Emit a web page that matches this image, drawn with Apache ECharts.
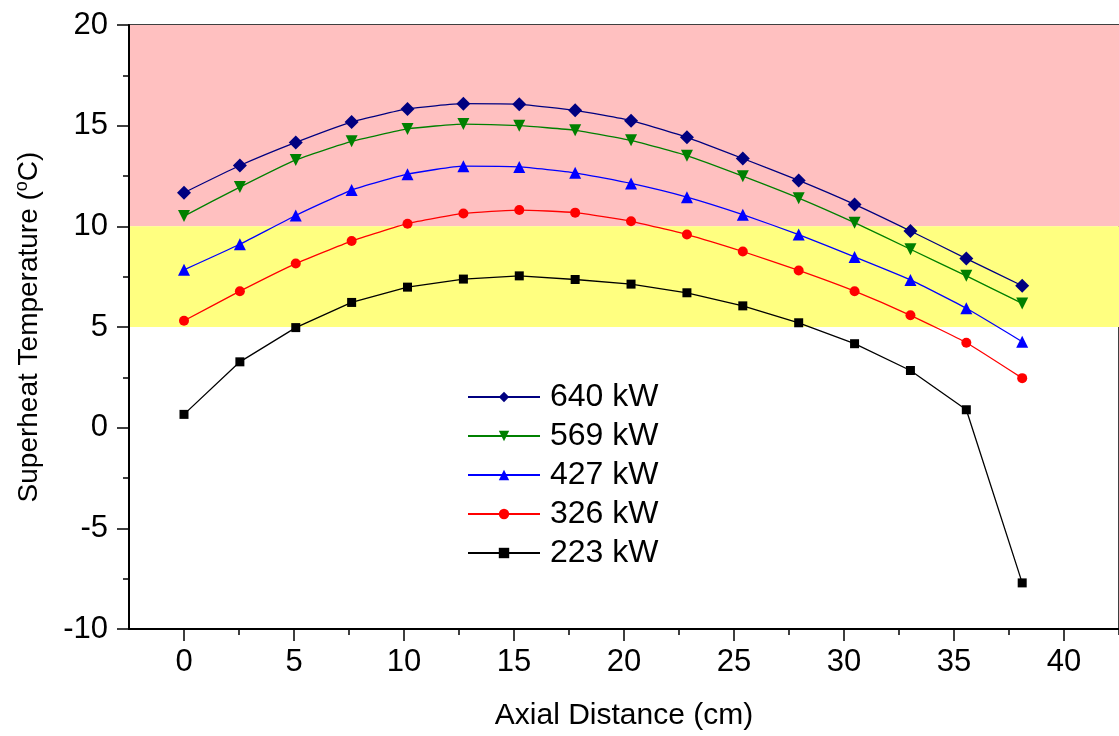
<!DOCTYPE html>
<html>
<head>
<meta charset="utf-8">
<script src="https://cdn.jsdelivr.net/npm/echarts@6/dist/echarts.min.js"></script>
<style>
  html, body { margin: 0; padding: 0; background: #fff; }
  #chart { width: 1119px; height: 736px; }
</style>
</head>
<body>
<div id="chart"></div>
<script>
// axial positions (cm)
const xPos = [0, 2.54, 5.08, 7.62, 10.16, 12.7, 15.24, 17.78, 20.32, 22.86, 25.4, 27.94, 30.48, 33.02, 35.56, 38.1]

// superheat per heat load (°C)
const s640 = [11.67, 13.02, 14.17, 15.18, 15.83, 16.09, 16.06, 15.76, 15.25, 14.42, 13.37, 12.28, 11.09, 9.77, 8.40, 7.05]
const s569 = [10.51, 11.95, 13.30, 14.22, 14.84, 15.08, 15.00, 14.77, 14.27, 13.51, 12.49, 11.40, 10.18, 8.86, 7.54, 6.17]
const s427 = [7.84, 9.11, 10.54, 11.80, 12.59, 12.99, 12.95, 12.66, 12.13, 11.45, 10.58, 9.59, 8.48, 7.34, 5.93, 4.27]
const s326 = [5.31, 6.78, 8.15, 9.27, 10.13, 10.64, 10.81, 10.68, 10.25, 9.59, 8.75, 7.81, 6.78, 5.58, 4.22, 2.46]
const s223 = [0.66, 3.27, 4.97, 6.22, 6.98, 7.38, 7.54, 7.36, 7.13, 6.70, 6.05, 5.21, 4.17, 2.84, 0.89, -7.71]

const names = ['640 kW', '569 kW', '427 kW', '326 kW', '223 kW']

// tick positions
const xMajor = [0, 5, 10, 15, 20, 25, 30, 35, 40]
const xMinor = [2.5, 7.5, 12.5, 17.5, 22.5, 27.5, 32.5, 37.5, 42.5]

// shaded bands [from, to]
const hotBand = [10, 20]
const warmBand = [5, 10]

const font = 'Liberation Sans, Arial, sans-serif'
const pairs = ys => xPos.map((x, i) => [x, ys[i]])

const chart = echarts.init(document.getElementById('chart'))

const mkSeries = (name, data, color, symbol, size, extra) => Object.assign({
  name: name,
  type: 'line',
  data: pairs(data),
  smooth: 0.15,
  symbol: symbol,
  symbolSize: size,
  itemStyle: { color: color },
  lineStyle: { color: color, width: 1.3 },
  emphasis: { disabled: true },
  z: 3
}, extra || {})

const option = {
  animation: false,
  backgroundColor: '#fff',
  grid: {
    left: 129,
    top: 25,
    right: -8,
    bottom: 105,
    show: true,
    borderColor: '#000',
    borderWidth: 1.5,
    backgroundColor: 'transparent'
  },
  legend: {
    orient: 'vertical',
    left: 462,
    top: 376,
    data: names,
    itemWidth: 72,
    itemHeight: 13,
    itemGap: 7,
    textStyle: { fontFamily: font, fontSize: 32, lineHeight: 30, color: '#000', padding: [0, 0, 0, 5] }
  },
  xAxis: [
    {
      type: 'value',
      min: -2.5,
      max: 42.5,
      position: 'bottom',
      name: 'Axial Distance (cm)',
      nameLocation: 'middle',
      nameGap: 72,
      nameTextStyle: { fontFamily: font, fontSize: 30, color: '#000' },
      axisLine: { show: true, onZero: false, lineStyle: { color: '#000', width: 2 } },
      axisTick: { show: true, customValues: xMajor, length: 12, lineStyle: { color: '#000', width: 1.5 } },
      axisLabel: { customValues: xMajor, margin: 18, fontFamily: font, fontSize: 31, color: '#000' },
      splitLine: { show: false },
      z: 5
    },
    {
      type: 'value',
      min: -2.5,
      max: 42.5,
      position: 'bottom',
      axisLine: { show: false, onZero: false },
      axisTick: { show: true, customValues: xMinor, length: 6, lineStyle: { color: '#000', width: 1.5 } },
      axisLabel: { show: false },
      splitLine: { show: false },
      z: 5
    }
  ],
  yAxis: {
    type: 'value',
    min: -10,
    max: 20,
    interval: 5,
    name: '{a|Superheat Temperature (}{s|o}{a|C)}',
    nameLocation: 'middle',
    nameGap: 84,
    nameRotate: 90,
    nameTextStyle: {
      rich: {
        a: { fontFamily: font, fontSize: 28, color: '#000' },
        s: { fontFamily: font, fontSize: 18, color: '#000', padding: [0, 0, 14, 0] }
      }
    },
    axisLine: { show: true, onZero: false, lineStyle: { color: '#000', width: 2 } },
    axisTick: { show: true, length: 12, lineStyle: { color: '#000', width: 1.5 } },
    minorTick: { show: true, splitNumber: 2, length: 6, lineStyle: { color: '#000', width: 1.5 } },
    axisLabel: { margin: 21, fontFamily: font, fontSize: 31, color: '#000' },
    splitLine: { show: false },
    z: 5
  },
  series: [
    mkSeries('223 kW', s223, '#000000', 'rect', 9, {
      smooth: false,
      markArea: {
        silent: true,
        data: [
          [{ yAxis: hotBand[0], itemStyle: { color: '#ffc0c0', opacity: 1 } }, { yAxis: hotBand[1] }],
          [{ yAxis: warmBand[0], itemStyle: { color: '#ffff80', opacity: 1 } }, { yAxis: warmBand[1] }]
        ]
      }
    }),
    mkSeries('326 kW', s326, '#ff0000', 'circle', 10),
    mkSeries('427 kW', s427, '#0000ff', 'triangle', 12),
    mkSeries('569 kW', s569, '#008000', 'triangle', 12, { symbolRotate: 180 }),
    mkSeries('640 kW', s640, '#000080', 'diamond', 14)
  ]
}

chart.setOption(option)
window.addEventListener('resize', () => chart.resize())
</script>
</body>
</html>
